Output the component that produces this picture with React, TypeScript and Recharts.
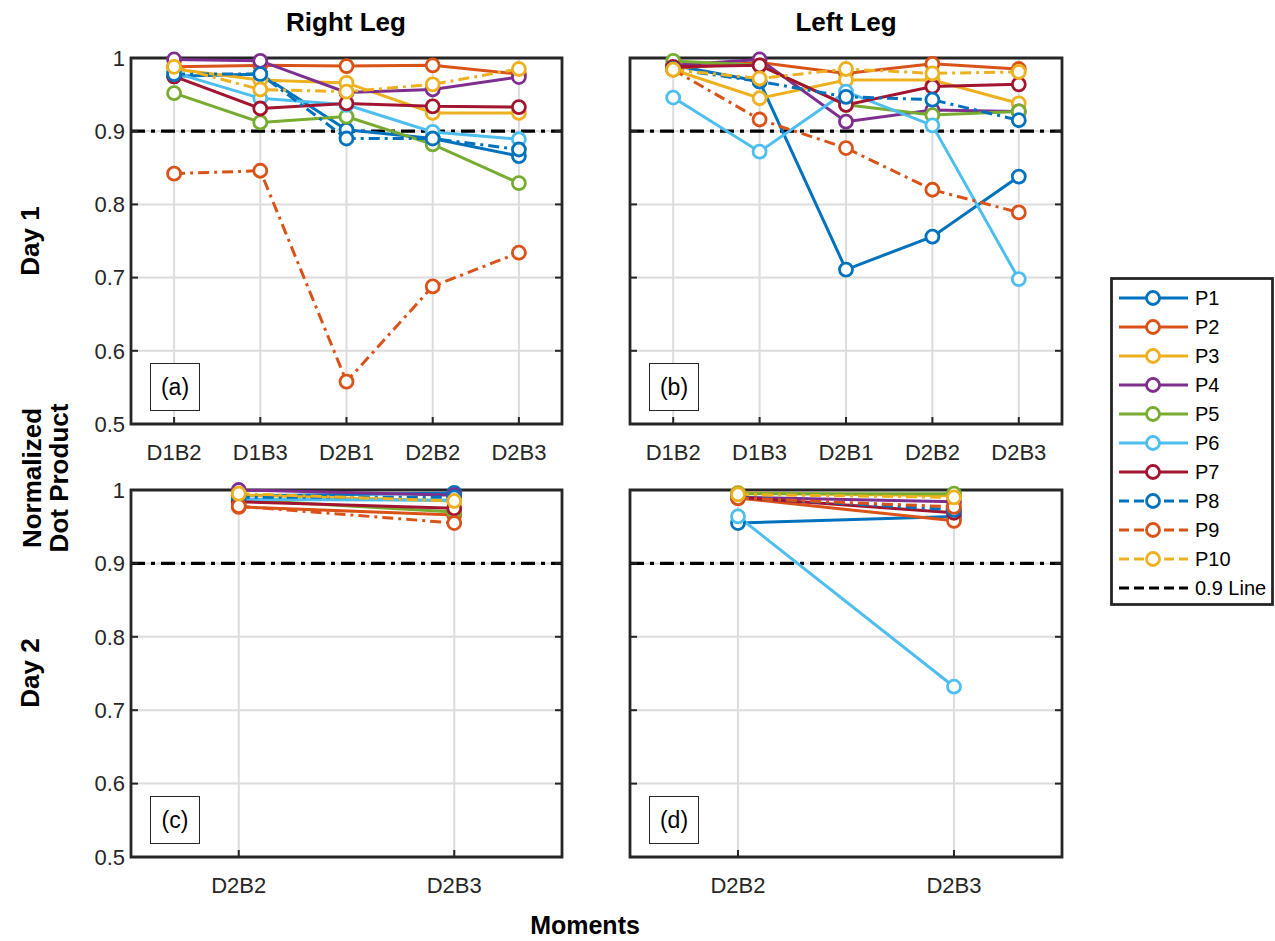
import React from 'react';
import { LineChart, Line, XAxis, YAxis, CartesianGrid, ReferenceLine, ReferenceArea } from 'recharts';

const FONT = '"Liberation Sans", Arial, Helvetica, sans-serif';

const participants = ['P1', 'P2', 'P3', 'P4', 'P5', 'P6', 'P7', 'P8', 'P9', 'P10'];
const colors = ['#0072BD', '#D95319', '#EDB120', '#7E2F8E', '#77AC30', '#4DBEEE', '#A2142F', '#0072BD', '#D95319', '#EDB120'];
const dashedSeries = [false, false, false, false, false, false, false, true, true, true];

const day1Moments = ['D1B2', 'D1B3', 'D2B1', 'D2B2', 'D2B3'];
const day2Moments = ['D2B2', 'D2B3'];
const yTicks = [0.5, 0.6, 0.7, 0.8, 0.9, 1];
const threshold = 0.9;

// rows: P1..P10, columns: moments
const rightLegDay1 = [
  [0.975, 0.978, 0.902, 0.890, 0.866],
  [0.988, 0.990, 0.989, 0.990, 0.978],
  [0.985, 0.970, 0.966, 0.925, 0.925],
  [0.998, 0.996, 0.953, 0.957, 0.974],
  [0.952, 0.912, 0.920, 0.882, 0.829],
  [0.980, 0.945, 0.936, 0.899, 0.889],
  [0.975, 0.931, 0.938, 0.934, 0.933],
  [0.978, 0.978, 0.890, 0.890, 0.875],
  [0.842, 0.846, 0.558, 0.688, 0.734],
  [0.988, 0.957, 0.954, 0.964, 0.985],
];

const leftLegDay1 = [
  [0.990, 0.968, 0.711, 0.756, 0.838],
  [0.986, 0.994, 0.979, 0.992, 0.985],
  [0.984, 0.945, 0.970, 0.970, 0.938],
  [0.990, 0.998, 0.913, 0.929, 0.927],
  [0.996, 0.990, 0.936, 0.922, 0.927],
  [0.946, 0.872, 0.954, 0.908, 0.698],
  [0.988, 0.990, 0.936, 0.961, 0.964],
  [0.985, 0.968, 0.947, 0.943, 0.915],
  [0.984, 0.916, 0.877, 0.820, 0.789],
  [0.984, 0.972, 0.985, 0.979, 0.981],
];

const rightLegDay2 = [
  [0.992, 0.996],
  [0.977, 0.966],
  [0.993, 0.985],
  [1.0, 0.993],
  [0.987, 0.970],
  [0.987, 0.986],
  [0.984, 0.975],
  [0.990, 0.990],
  [0.978, 0.955],
  [0.995, 0.985],
];

const leftLegDay2 = [
  [0.955, 0.964],
  [0.989, 0.958],
  [0.996, 0.992],
  [0.990, 0.984],
  [0.995, 0.995],
  [0.964, 0.732],
  [0.990, 0.969],
  [0.990, 0.973],
  [0.989, 0.977],
  [0.994, 0.990],
];

const DARK = '#262626';
const DASH = '11 5 3 5';
const REF_DASH = '14 6 4 6';

type PanelProps = {
  left: number;
  top: number;
  width: number;
  height: number;
  moments: string[];
  values: number[][];
  showYLabels: boolean;
  tag: string;
};

function Panel({ left, top, width, height, moments, values, showYLabels, tag }: PanelProps) {
  const YW = 70;
  const MT = 12;
  const MR = 12;
  const XH = 50;
  const data = moments.map((m, i) => {
    const row: any = { x: i + 1, moment: m };
    participants.forEach((p, k) => {
      row[p] = values[k][i];
    });
    return row;
  });
  const xTicks = moments.map((_, i) => i + 1);

  const XTick = (props: any) => {
    const { x, y, payload } = props;
    return (
      <g>
        <line x1={x} y1={y} x2={x} y2={y - 7} stroke={DARK} strokeWidth={2} />
        <text x={x} y={y + 28} dy="0.35em" textAnchor="middle" fontSize={22} fill={DARK} fontFamily={FONT}>
          {moments[payload.value - 1]}
        </text>
      </g>
    );
  };

  const YTick = (props: any) => {
    const { x, y, payload } = props;
    const v = payload.value;
    return (
      <g>
        <line x1={x} y1={y} x2={x + 7} y2={y} stroke={DARK} strokeWidth={2} />
        <line x1={x + width - 7} y1={y} x2={x + width} y2={y} stroke={DARK} strokeWidth={2} />
        {showYLabels && (
          <text x={x - 6} y={y} dy="0.35em" textAnchor="end" fontSize={22} fill={DARK} fontFamily={FONT}>
            {v === 1 ? '1' : v.toFixed(1)}
          </text>
        )}
      </g>
    );
  };

  return (
    <div style={{ position: 'absolute', left: left - YW, top: top - MT }}>
      <LineChart
        width={YW + width + MR}
        height={MT + height + XH}
        data={data}
        margin={{ top: MT, right: MR, bottom: 0, left: 0 }}
      >
        <CartesianGrid stroke="#dcdcdc" strokeWidth={2} />
        <XAxis
          type="number"
          dataKey="x"
          domain={[0.5, moments.length + 0.5]}
          ticks={xTicks}
          interval={0}
          tickSize={0}
          tickMargin={0}
          tickLine={false}
          axisLine={false}
          height={XH}
          tick={XTick}
        />
        <YAxis
          type="number"
          domain={[0.5, 1]}
          ticks={yTicks}
          interval={0}
          width={YW}
          tickSize={0}
          tickMargin={0}
          tickLine={false}
          axisLine={false}
          tick={YTick}
        />
        <ReferenceArea
          x1={0.5}
          x2={moments.length + 0.5}
          y1={0.5}
          y2={1}
          fill="none"
          fillOpacity={0}
          stroke={DARK}
          strokeWidth={2.8}
          ifOverflow="visible"
        />
        <ReferenceLine y={threshold} stroke="#000" strokeWidth={3.2} strokeDasharray={REF_DASH} />
        {participants.map((p, k) => (
          <Line
            key={p}
            type="linear"
            dataKey={p}
            stroke={colors[k]}
            strokeWidth={3}
            strokeDasharray={dashedSeries[k] ? DASH : undefined}
            dot={{ r: 6.5, fill: '#fff', stroke: colors[k], strokeWidth: 2.8, strokeDasharray: 'none' }}
            activeDot={false}
            isAnimationActive={false}
          />
        ))}
      </LineChart>
      <div
        style={{
          position: 'absolute',
          left: YW + 19,
          top: MT + height - 61,
          width: 48,
          height: 46,
          border: `1.5px solid ${DARK}`,
          background: '#fff',
          fontFamily: FONT,
          fontSize: 23,
          color: '#000',
          display: 'flex',
          alignItems: 'center',
          justifyContent: 'center',
        }}
      >
        {tag}
      </div>
    </div>
  );
}

function LegendBox() {
  const items = participants.map((p, k) => ({ name: p, color: colors[k], dashed: dashedSeries[k], marker: true }));
  items.push({ name: '0.9 Line', color: '#000', dashed: true, marker: false });
  return (
    <svg style={{ position: 'absolute', left: 1110, top: 277 }} width={165} height={330}>
      <rect x={1.5} y={1.5} width={161} height={326} fill="#fff" stroke={DARK} strokeWidth={2.8} />
      {items.map((it, i) => {
        const cy = 21 + i * 29;
        return (
          <g key={it.name}>
            <line
              x1={9}
              x2={78}
              y1={cy}
              y2={cy}
              stroke={it.color}
              strokeWidth={3}
              strokeDasharray={it.dashed ? '10 5 10 5' : undefined}
            />
            {it.marker && <circle cx={43} cy={cy} r={6.5} fill="#fff" stroke={it.color} strokeWidth={2.8} />}
            <text x={85} y={cy} dy="0.35em" fontSize={20} fontFamily={FONT} fill="#000">
              {it.name}
            </text>
          </g>
        );
      })}
    </svg>
  );
}

export default function App() {
  const boldText = { fontFamily: FONT, fontWeight: 700, fontSize: 26, fill: '#000' } as const;
  return (
    <div style={{ position: 'absolute', left: 0, top: 0, width: 1275, height: 941, background: '#fff', fontFamily: FONT }}>
      <svg style={{ position: 'absolute', left: 0, top: 0 }} width={1275} height={941}>
        <text x={346} y={22} dominantBaseline="central" textAnchor="middle" {...boldText}>Right Leg</text>
        <text x={846} y={22} dominantBaseline="central" textAnchor="middle" {...boldText}>Left Leg</text>
        <text x={30} y={241} dominantBaseline="central" textAnchor="middle" transform="rotate(-90, 30, 241)" {...boldText}>Day 1</text>
        <text x={30} y={673} dominantBaseline="central" textAnchor="middle" transform="rotate(-90, 30, 673)" {...boldText}>Day 2</text>
        <text x={32} y={478} dominantBaseline="central" textAnchor="middle" transform="rotate(-90, 32, 478)" {...boldText}>Normalized</text>
        <text x={59} y={478} dominantBaseline="central" textAnchor="middle" transform="rotate(-90, 59, 478)" {...boldText}>Dot Product</text>
        <text x={585} y={925} dominantBaseline="central" textAnchor="middle" {...boldText} fontSize={25}>Moments</text>
      </svg>
      <Panel left={131} top={58} width={431} height={366} moments={day1Moments} values={rightLegDay1} showYLabels tag="(a)" />
      <Panel left={630} top={58} width={432} height={366} moments={day1Moments} values={leftLegDay1} showYLabels={false} tag="(b)" />
      <Panel left={131} top={490} width={431} height={367} moments={day2Moments} values={rightLegDay2} showYLabels tag="(c)" />
      <Panel left={630} top={490} width={432} height={367} moments={day2Moments} values={leftLegDay2} showYLabels={false} tag="(d)" />
      <LegendBox />
    </div>
  );
}
